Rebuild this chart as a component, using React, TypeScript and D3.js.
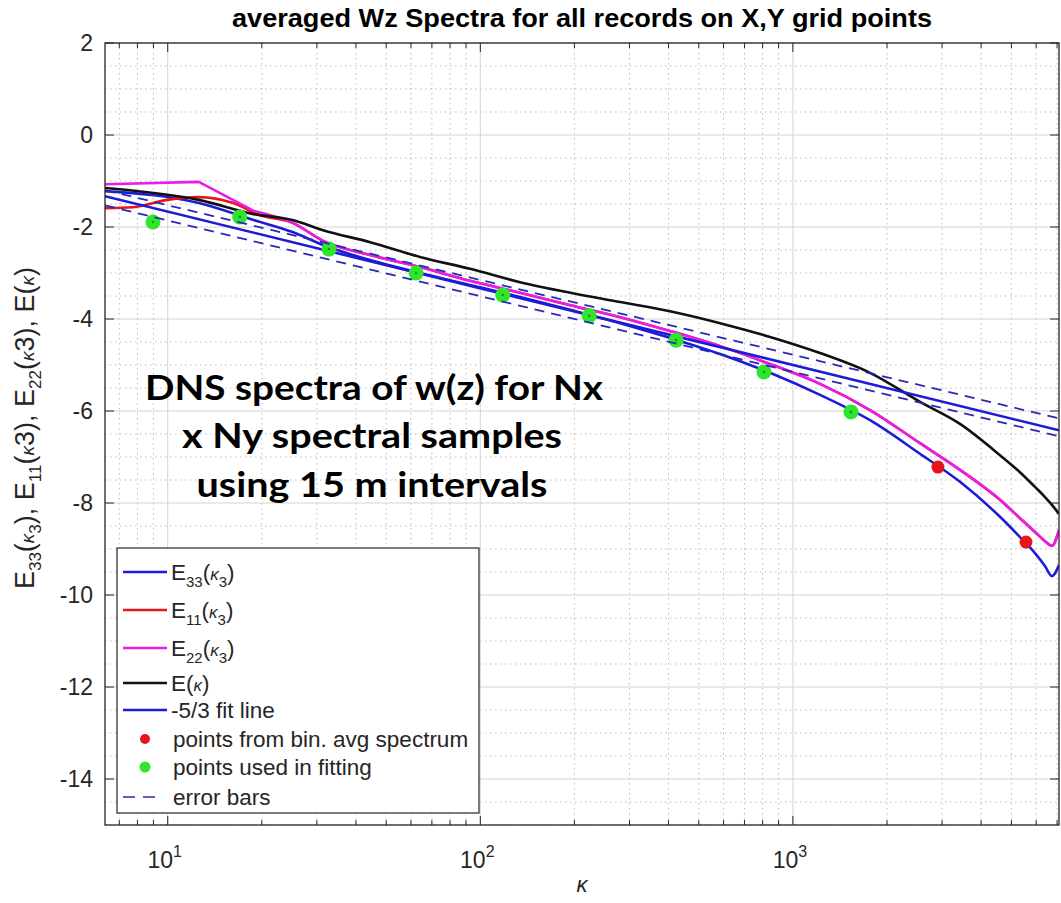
import React from 'react';
import * as d3 from 'd3';

const W = 1061;
const H = 903;

// wavenumber grid shared by the spectra
const kGrid = [6.28, 12.57, 18.85, 25.1, 31.4, 44.4, 64.1, 92.7, 134, 194, 280, 404, 585, 845, 1221, 1765, 2550, 3424, 4596, 5325, 5948, 6402, 6741, 7100];

const E33 = [-1.22, -1.48, -1.85, -2.11, -2.39, -2.72, -3.0, -3.26, -3.52, -3.8, -4.09, -4.41, -4.76, -5.17, -5.65, -6.2, -6.93, -7.54, -8.3, -8.74, -9.09, -9.37, -9.59, -9.35];
const E22 = [-1.07, -1.02, -1.65, -1.91, -2.3, -2.61, -2.87, -3.17, -3.43, -3.7, -3.96, -4.26, -4.59, -4.98, -5.41, -5.98, -6.7, -7.28, -7.93, -8.33, -8.63, -8.83, -8.93, -8.59];
const Ekappa = [-1.15, -1.41, -1.72, -1.85, -2.07, -2.33, -2.65, -2.91, -3.2, -3.43, -3.63, -3.83, -4.09, -4.39, -4.74, -5.17, -5.8, -6.28, -6.96, -7.33, -7.65, -7.87, -8.04, -8.24];

const E11k = [6.28, 7.74, 9.95, 12.57, 16.2, 19.7, 25.1, 31.4, 44.4, 64.1, 92.7, 134, 194, 280, 404, 585, 845, 1221, 1765, 2550, 3424, 4596, 5325, 5948, 6402, 6741, 7100];
const E11 = [-1.59, -1.57, -1.41, -1.35, -1.48, -1.74, -1.91, -2.3, -2.61, -2.87, -3.17, -3.43, -3.7, -3.96, -4.26, -4.59, -4.98, -5.41, -5.98, -6.7, -7.28, -7.93, -8.33, -8.63, -8.83, -8.93, -8.59];

// -5/3 fit line and its error bars (end points)
const fitK = [6.3, 7100];
const fitV = [-1.33, -6.42];
const errUpperV = [-1.2, -6.16];
const errLowerV = [-1.53, -6.55];

// bin-averaged points
const greenK = [8.97, 17.0, 32.8, 62.3, 118, 223, 423, 808, 1534];
const greenV = [-1.89, -1.78, -2.48, -3.0, -3.48, -3.93, -4.46, -5.15, -6.02];
const redK = [2911, 5567];
const redV = [-7.22, -8.85];

const xMajor = [10, 100, 1000];
const xMajorExp = ['1', '2', '3'];
const xMinor = [7, 8, 9, 20, 30, 40, 50, 60, 70, 80, 90, 200, 300, 400, 500, 600, 700, 800, 900, 2000, 3000, 4000, 5000, 6000, 7000];
const yTicks = [-14, -12, -10, -8, -6, -4, -2, 0, 2];
const yMinor = d3.range(-15, 2.01, 0.5).filter((v) => Math.abs(v % 2) > 1e-9);

const L = 105, R = 1059, T = 43, B = 825;

const BLUE = '#1c1cd6';
const RED = '#e8141c';
const MAG = '#e81ee8';
const BLK = '#111111';
const DASH = '#2a2ab4';
const GREEN = '#2ee62e';
const AX = '#262626';

export default function App() {
  const x = d3.scaleLog().domain([6.3, 7100]).range([L, R]);
  const y = d3.scaleLinear().domain([-15, 2]).range([B, T]);
  const line = d3.line<[number, number]>().x((d) => x(d[0])).y((d) => y(d[1]));
  const smooth = d3
    .line<[number, number]>()
    .x((d) => x(d[0]))
    .y((d) => y(d[1]))
    .curve(d3.curveMonotoneX);
  const zip = (ks: number[], vs: number[]) => ks.map((k, i) => [k, vs[i]] as [number, number]);
  // straight segments for the first few discrete wavenumbers, smooth afterwards
  const mixed = (pts: [number, number][], nLin: number) =>
    (line(pts.slice(0, nLin + 1)) || '') + (smooth(pts.slice(nLin)) || '').replace(/^M/, 'M');

  const font = 'Liberation Sans, Arial, Helvetica, sans-serif';

  const legendRows = [572, 610, 648, 683, 710, 739, 767, 797];
  const subLabel = (sub: string, k: string, kSub: boolean, big = false) => (
    <>
      <tspan>E</tspan>
      <tspan fontSize={big ? 17 : 15} dy={7}>{sub}</tspan>
      <tspan dy={-7}>(</tspan>
      <tspan fontStyle="italic" fontSize={big ? 19 : 17}>κ</tspan>
      {kSub ? <tspan fontSize={big ? 17 : 15} dy={7}>{k}</tspan> : <tspan>{k}</tspan>}
      {kSub ? <tspan dy={-7}>)</tspan> : <tspan>)</tspan>}
    </>
  );

  return (
    <svg width={W} height={H} style={{ position: 'absolute', left: 0, top: 0, background: '#fff' }} fontFamily={font}>
      <defs>
        <clipPath id="plot">
          <rect x={L} y={T} width={R - L} height={B - T} />
        </clipPath>
      </defs>
      <rect x={0} y={0} width={W} height={H} fill="#fff" />
      {/* minor grid */}
      <g stroke="#bdbdbd" strokeWidth={1} strokeDasharray="1.5,3.5">
        {xMinor.map((k) => (
          <line key={'xm' + k} x1={x(k)} x2={x(k)} y1={T} y2={B} />
        ))}
        {yMinor.map((v) => (
          <line key={'ym' + v} x1={L} x2={R} y1={y(v)} y2={y(v)} />
        ))}
      </g>
      {/* major grid */}
      <g stroke="#d4d4d4" strokeWidth={1}>
        {xMajor.map((k) => (
          <line key={'xM' + k} x1={x(k)} x2={x(k)} y1={T} y2={B} />
        ))}
        {yTicks.map((v) => (
          <line key={'yM' + v} x1={L} x2={R} y1={y(v)} y2={y(v)} />
        ))}
      </g>

      <g clipPath="url(#plot)" fill="none" strokeLinejoin="round">
        <path d={smooth(zip(kGrid, E33)) || ''} stroke={BLUE} strokeWidth={2.6} />
        <path d={smooth(zip(E11k, E11)) || ''} stroke={RED} strokeWidth={2.6} />
        <path d={mixed(zip(kGrid, E22), 2)} stroke={MAG} strokeWidth={2.6} />
        <path d={smooth(zip(kGrid, Ekappa)) || ''} stroke={BLK} strokeWidth={2.6} />
        <path d={line(zip(fitK, fitV)) || ''} stroke={BLUE} strokeWidth={2.6} />
        {redK.map((k, i) => (
          <circle key={'r' + i} cx={x(k)} cy={y(redV[i])} r={6.5} fill={RED} stroke="none" />
        ))}
        {greenK.map((k, i) => (
          <g key={'g' + i}>
            <circle cx={x(k)} cy={y(greenV[i])} r={7.5} fill={GREEN} />
            <circle cx={x(k)} cy={y(greenV[i])} r={1.3} fill="#159a15" />
          </g>
        ))}
        <path d={line(zip(fitK, errUpperV)) || ''} stroke={DASH} strokeWidth={1.8} strokeDasharray="10,7" />
        <path d={line(zip(fitK, errLowerV)) || ''} stroke={DASH} strokeWidth={1.8} strokeDasharray="10,7" />
      </g>

      {/* ticks */}
      <g stroke={AX} strokeWidth={1}>
        {xMajor.map((k) => (
          <g key={'tM' + k}>
            <line x1={x(k)} x2={x(k)} y1={B} y2={B - 9} />
            <line x1={x(k)} x2={x(k)} y1={T} y2={T + 9} />
          </g>
        ))}
        {xMinor.map((k) => (
          <g key={'tm' + k}>
            <line x1={x(k)} x2={x(k)} y1={B} y2={B - 5} />
            <line x1={x(k)} x2={x(k)} y1={T} y2={T + 5} />
          </g>
        ))}
        {yTicks.map((v) => (
          <g key={'ty' + v}>
            <line x1={L} x2={L + 9} y1={y(v)} y2={y(v)} />
            <line x1={R} x2={R - 9} y1={y(v)} y2={y(v)} />
          </g>
        ))}
      </g>
      <rect x={L} y={T} width={R - L} height={B - T} fill="none" stroke={AX} strokeWidth={1.3} />

      {/* tick labels */}
      <g fill={AX} fontSize={23}>
        {yTicks.map((v) => (
          <text key={'yl' + v} x={93} y={y(v)} dy="0.35em" textAnchor="end">
            {v < 0 ? '-' + Math.abs(v) : String(v)}
          </text>
        ))}
        {xMajor.map((k, i) => (
          <text key={'xl' + k} x={x(k) - 3} y={868} textAnchor="middle">
            <tspan>10</tspan>
            <tspan fontSize={16} dy={-11}>{xMajorExp[i]}</tspan>
          </text>
        ))}
        <text x={(L + R) / 2} y={892} textAnchor="middle" fontStyle="italic" fontSize={22}>
          κ
        </text>
        <text transform="translate(34,428) rotate(-90)" textAnchor="middle" fontSize={27}>
          {subLabel('33', '3', true, true)}
          <tspan>, </tspan>
          {subLabel('11', '3', false, true)}
          <tspan>, </tspan>
          {subLabel('22', '3', false, true)}
          <tspan>, E(</tspan>
          <tspan fontStyle="italic" fontSize={19}>κ</tspan>
          <tspan>)</tspan>
        </text>
      </g>

      {/* title */}
      <text x={582} y={27} textAnchor="middle" fontWeight="bold" fontSize={26} fill="#000" textLength={700} lengthAdjust="spacingAndGlyphs">
        averaged Wz Spectra for all records on X,Y grid points
      </text>

      {/* legend */}
      <g>
        <rect x={117} y={548} width={362} height={265} fill="#fff" stroke={AX} strokeWidth={1.2} />
        {[BLUE, RED, MAG, BLK, BLUE].map((c, i) => (
          <line key={'ll' + i} x1={123} x2={167} y1={legendRows[i]} y2={legendRows[i]} stroke={c} strokeWidth={2.4} />
        ))}
        <circle cx={145} cy={legendRows[5]} r={5} fill={RED} />
        <circle cx={145} cy={legendRows[6]} r={5.5} fill={GREEN} />
        <line x1={123} x2={162} y1={legendRows[7]} y2={legendRows[7]} stroke={DASH} strokeWidth={1.6} strokeDasharray="12,8" />
        <g fill={AX} fontSize={22.5}>
          <text x={171} y={legendRows[0] + 8}>{subLabel('33', '3', true)}</text>
          <text x={171} y={legendRows[1] + 8}>{subLabel('11', '3', true)}</text>
          <text x={171} y={legendRows[2] + 8}>{subLabel('22', '3', true)}</text>
          <text x={171} y={legendRows[3] + 8}>
            <tspan>E(</tspan>
            <tspan fontStyle="italic" fontSize={17}>κ</tspan>
            <tspan>)</tspan>
          </text>
          <text x={171} y={legendRows[4] + 8}>-5/3 fit line</text>
          <text x={173} y={legendRows[5] + 8}>points from bin. avg spectrum</text>
          <text x={173} y={legendRows[6] + 8}>points used in fitting</text>
          <text x={173} y={legendRows[7] + 8}>error bars</text>
        </g>
      </g>

      {/* annotation */}
      <g fontFamily="Lato, 'Open Sans', sans-serif" fontWeight="bold" fontSize={35} fill="#000" textAnchor="middle">
        <text x={374} y={400} textLength={458} lengthAdjust="spacingAndGlyphs">DNS spectra of w(z) for Nx</text>
        <text x={372} y={448} textLength={380} lengthAdjust="spacingAndGlyphs">x Ny spectral samples</text>
        <text x={372} y={497} textLength={351} lengthAdjust="spacingAndGlyphs">using 15 m intervals</text>
      </g>
    </svg>
  );
}
